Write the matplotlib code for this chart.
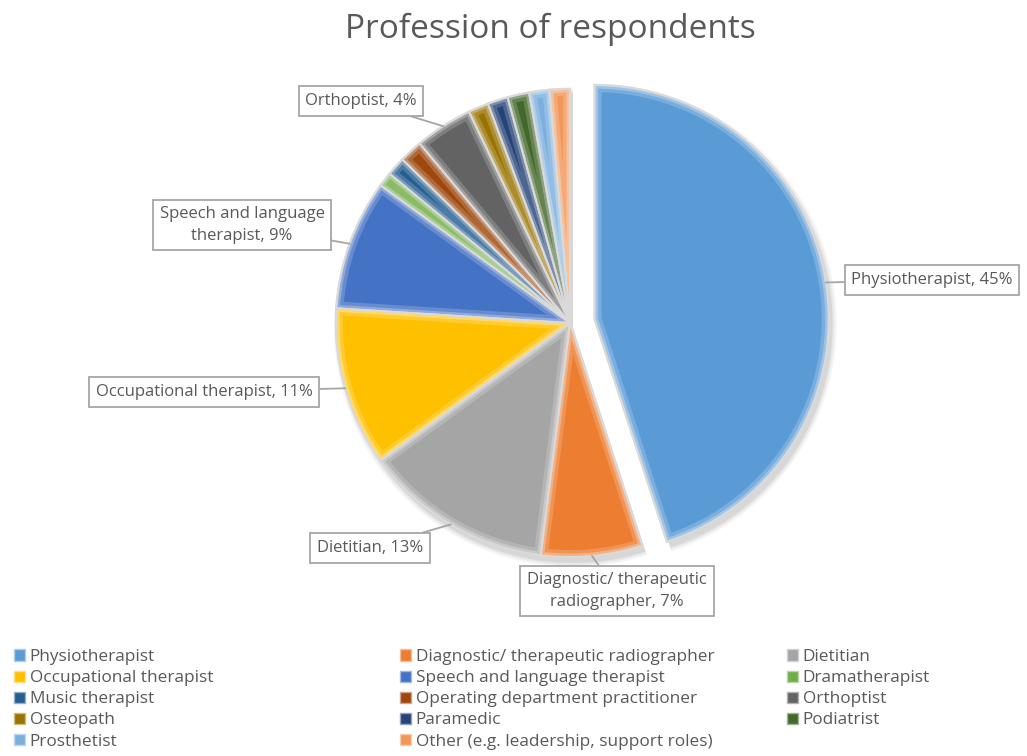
import matplotlib
matplotlib.use("Agg")
import numpy as np
import matplotlib.pyplot as plt
from matplotlib.patches import Patch, Wedge
from matplotlib.colors import to_rgb

plt.rcParams['font.family'] = ['Open Sans', 'DejaVu Sans']

# Share of respondents by profession (%), clockwise from 12 o'clock
professions = [
    "Physiotherapist",
    "Diagnostic/ therapeutic radiographer",
    "Dietitian",
    "Occupational therapist",
    "Speech and language therapist",
    "Dramatherapist",
    "Music therapist",
    "Operating department practitioner",
    "Orthoptist",
    "Osteopath",
    "Paramedic",
    "Podiatrist",
    "Prosthetist",
    "Other (e.g. leadership, support roles)",
]
shares = [45, 7, 13, 11, 9, 1.0, 1.3, 1.6, 4, 1.4, 1.4, 1.5, 1.4, 1.4]
colors = ["#5B9BD5", "#ED7D31", "#A5A5A5", "#FFC000", "#4472C4", "#70AD47",
          "#255E91", "#9E480E", "#636363", "#997300", "#264478", "#43682B",
          "#7CAFDD", "#F1975A"]

# Slices carrying a callout label, with their label text
callouts = {
    0: "Physiotherapist, 45%",
    1: "Diagnostic/ therapeutic\nradiographer, 7%",
    2: "Dietitian, 13%",
    3: "Occupational therapist, 11%",
    4: "Speech and language\ntherapist, 9%",
    8: "Orthoptist, 4%",
}

W, H = 1027, 756
fig = plt.figure(figsize=(W / 100, H / 100), dpi=100)
ax = fig.add_axes([0, 0, 1, 1])


def py(y):
    return H - y


def tint(c, f):
    rgb = np.array(to_rgb(c))
    return tuple(rgb + (1 - rgb) * f)


cx, cy, r = 570, py(323), 234
explode = [25] + [0] * (len(shares) - 1)

wedges, _ = ax.pie(shares, colors=colors, startangle=90, counterclock=False,
                   explode=explode, radius=r, center=(cx, cy),
                   wedgeprops=dict(edgecolor="#D9D9D9", linewidth=1.8))

for w, c in zip(wedges, colors):
    w.set_zorder(2)
    # soft drop shadow under each slice
    for dr, a in [(5, 0.04), (3, 0.05), (1, 0.07)]:
        ax.add_patch(Wedge((w.center[0] + 3, w.center[1] - 5), w.r + dr,
                           w.theta1, w.theta2, fc="black", ec="none",
                           alpha=a, zorder=1))
    # bevel: light band along the slice edges
    for lw, f in [(10, 0.18), (5, 0.4)]:
        rim = Wedge(w.center, w.r, w.theta1, w.theta2, fc="none",
                    ec=tint(c, f), lw=lw, zorder=3)
        rim.set_clip_path(w)
        ax.add_patch(rim)
    ax.add_patch(Wedge(w.center, w.r, w.theta1, w.theta2, fc="none",
                       ec="#DADADA", lw=1.4, zorder=4))

ax.set_xlim(0, W)
ax.set_ylim(0, H)
ax.set_aspect('equal')
ax.axis('off')

ax.text(550, py(29), "Profession of respondents", ha='center', va='center',
        fontsize=24, color="#595959")

# Callout boxes: centre positions in pixels
box_pos = {
    0: (932, 280),
    1: (617, 591),
    2: (370, 548),
    3: (204, 392),
    4: (242, 225),
    8: (361, 101),
}
for i, txt in callouts.items():
    w = wedges[i]
    ang = np.deg2rad((w.theta1 + w.theta2) / 2)
    xc, yc = w.center
    tip = (xc + r * np.cos(ang), yc + r * np.sin(ang))
    bx, byp = box_pos[i]
    ax.annotate(txt, xy=tip, xytext=(bx, py(byp)), ha='center', va='center',
                fontsize=12, color="#595959", linespacing=1.45,
                bbox=dict(boxstyle="square,pad=0.4", fc="white", ec="#A6A6A6", lw=1.3),
                arrowprops=dict(arrowstyle='-', color="#A6A6A6", lw=1.3,
                                shrinkA=0, shrinkB=0), zorder=6)

# Legend laid out row by row in three columns
col_x = [14, 400, 787]
for c in range(3):
    idx = list(range(c, len(professions), 3))
    handles = [Patch(facecolor=colors[k], edgecolor=tint(colors[k], 0.5), lw=1.0)
               for k in idx]
    labels = [professions[k] for k in idx]
    fig.legend(handles, labels, loc='upper left',
               bbox_to_anchor=(col_x[c] / W, 1 - 649 / H), frameon=False,
               fontsize=12.4, handlelength=0.62, handleheight=0.62,
               handletextpad=0.3, labelspacing=0.3, borderpad=0,
               borderaxespad=0, labelcolor="#595959")

fig.savefig("out.png", dpi=100, facecolor="white")
